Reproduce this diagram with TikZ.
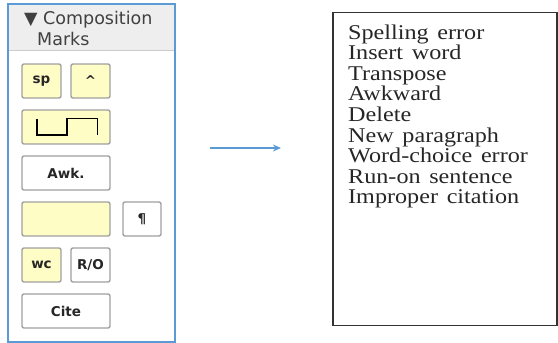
\documentclass[tikz,border=0pt]{standalone}
\usepackage{fontspec}
\setmainfont{Liberation Serif}
\newfontfamily\uifont{DejaVu Sans}
\usetikzlibrary{arrows.meta}
\definecolor{panelblue}{HTML}{5B9BD5}
\definecolor{headgray}{HTML}{EEEEEE}
\definecolor{btngray}{HTML}{A0A0A0}
\definecolor{btnyellow}{HTML}{FFFDC6}
\definecolor{arrowblue}{HTML}{5B9BD5}
\begin{document}
\begin{tikzpicture}[x=1pt,y=-1pt,
  btn/.style={draw=btngray, line width=1.4pt, rounded corners=2pt, minimum height=34pt, inner sep=0pt, font=\uifont\bfseries\fontsize{13.5}{13.5}\selectfont, text=black!85},
  small/.style={btn, minimum width=39pt},
  wide/.style={btn, minimum width=88pt},
  yel/.style={fill=btnyellow},
  wht/.style={fill=white},
  hdr/.style={anchor=west, inner sep=0pt, font=\uifont\fontsize{17.5}{17.5}\selectfont, text=black!75},
  listline/.style={anchor=base west, inner sep=0pt, font=\fontsize{21}{21}\selectfont, text=black!85}
]
\useasboundingbox (0,0) rectangle (558,343);
% panel
\fill[headgray] (8,4) rectangle (175,50);
\draw[black!20, line width=0.8pt] (8,50) -- (175,50);
\draw[panelblue, line width=1.5pt] (8,4) rectangle (175,342);
\node[hdr] (h1) at (24,20) {▼ Composition};
\node[hdr] (h2) at (37,39) {Marks};
% buttons
\node[small, yel] (sp) at (41.5,81) {sp};
\node[small, yel] (ins) at (90.5,81) {\textasciicircum};
\node[wide, yel] (tr) at (66,127) {};
\draw[black, line width=1.6pt] (36.7,118.5) -- (36.7,135) -- (66.7,135) -- (66.7,118.5) -- (97.3,118.5) -- (97.3,135);
\node[wide, wht] (awk) at (66,173) {Awk.};
\node[wide, yel] (del) at (66,219) {};
\node[small, wht, minimum width=38pt] (para) at (142,219) {¶};
\node[small, yel] (wc) at (41.5,265) {wc};
\node[small, wht] (ro) at (90.5,265) {R/O};
\node[wide, wht] (cite) at (66,311) {Cite};
% arrow
\coordinate (a1) at (210,148);
\coordinate (a2) at (281,148);
\draw[arrowblue, line width=1.4pt, -{Stealth[length=8pt,width=7pt]}] (a1) -- (a2);
% list box
\draw[black!80, line width=1.3pt] (333,12.3) rectangle (557,325.7);
\foreach \t [count=\i] in {Spelling error, Insert word, Transpose, Awkward, Delete, New paragraph, Word-choice error, Run-on sentence, Improper citation}{
  \node[listline] (l\i) at (348,{39+20.6*(\i-1)}) {\scalebox{1.15}[1]{\spaceskip=0.36em\relax \t}};
}
\end{tikzpicture}
\end{document}
